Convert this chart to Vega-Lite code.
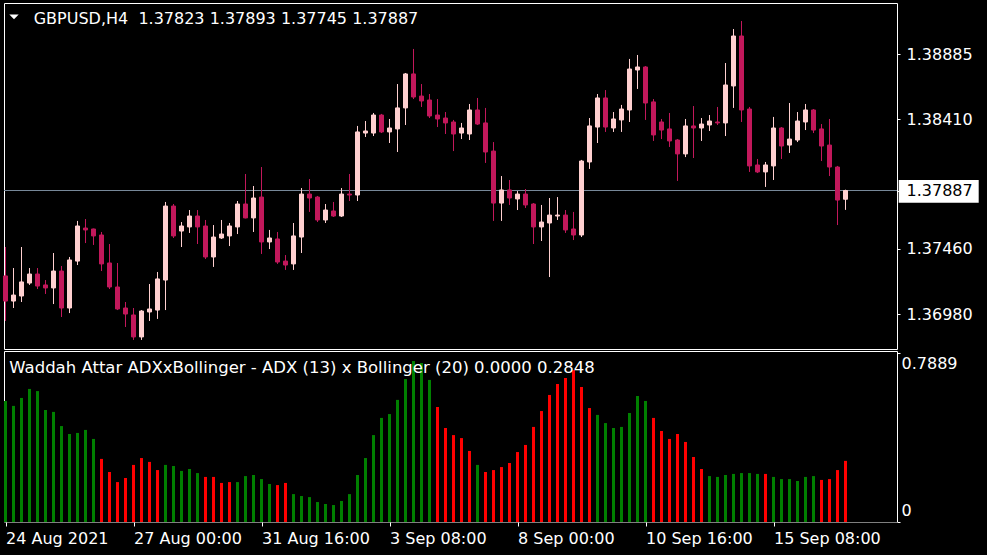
{
"$schema":"https://vega.github.io/schema/vega-lite/v6.json",
"background":"#000000",
"padding":{"left":2,"top":2,"right":0,"bottom":0},
"spacing":2,
"bounds":"flush",
"config":{"view":{"stroke":"#FFFFFF","strokeWidth":1,"fill":"#000000"},"font":"DejaVu Sans","axis":{"labelFont":"DejaVu Sans","labelFontSize":16,"labelColor":"#FFFFFF","tickColor":"#FFFFFF","tickWidth":1,"domain":false,"grid":false,"zindex":1}},
"datasets":{"bars":[
{"i":0,"o":1.37261,"h":1.37473,"l":1.36931,"c":1.37077,"w":0.564,"s":"up"},
{"i":1,"o":1.37077,"h":1.37319,"l":1.37026,"c":1.37121,"w":0.541,"s":"up"},
{"i":2,"o":1.37114,"h":1.37473,"l":1.37070,"c":1.37217,"w":0.578,"s":"up"},
{"i":3,"o":1.37209,"h":1.37319,"l":1.37195,"c":1.37275,"w":0.620,"s":"up"},
{"i":4,"o":1.37275,"h":1.37319,"l":1.37165,"c":1.37187,"w":0.610,"s":"up"},
{"i":5,"o":1.37195,"h":1.37231,"l":1.37129,"c":1.37173,"w":0.522,"s":"up"},
{"i":6,"o":1.37173,"h":1.37429,"l":1.37055,"c":1.37297,"w":0.513,"s":"up"},
{"i":7,"o":1.37297,"h":1.37334,"l":1.36960,"c":1.37026,"w":0.447,"s":"up"},
{"i":8,"o":1.37026,"h":1.37400,"l":1.36989,"c":1.37378,"w":0.410,"s":"up"},
{"i":9,"o":1.37370,"h":1.37664,"l":1.37341,"c":1.37627,"w":0.415,"s":"up"},
{"i":10,"o":1.37612,"h":1.37678,"l":1.37502,"c":1.37598,"w":0.429,"s":"up"},
{"i":11,"o":1.37605,"h":1.37608,"l":1.37488,"c":1.37554,"w":0.387,"s":"up"},
{"i":12,"o":1.37561,"h":1.37583,"l":1.37297,"c":1.37349,"w":0.294,"s":"dn"},
{"i":13,"o":1.37356,"h":1.37495,"l":1.37165,"c":1.37180,"w":0.233,"s":"dn"},
{"i":14,"o":1.37180,"h":1.37356,"l":1.37011,"c":1.37019,"w":0.186,"s":"dn"},
{"i":15,"o":1.37026,"h":1.37070,"l":1.36887,"c":1.36982,"w":0.205,"s":"dn"},
{"i":16,"o":1.36975,"h":1.37026,"l":1.36792,"c":1.36814,"w":0.266,"s":"dn"},
{"i":17,"o":1.36814,"h":1.37011,"l":1.36792,"c":1.37004,"w":0.298,"s":"dn"},
{"i":18,"o":1.36997,"h":1.37202,"l":1.36931,"c":1.37019,"w":0.280,"s":"dn"},
{"i":19,"o":1.37011,"h":1.37290,"l":1.36946,"c":1.37239,"w":0.242,"s":"dn"},
{"i":20,"o":1.37231,"h":1.37803,"l":1.37011,"c":1.37773,"w":0.266,"s":"up"},
{"i":21,"o":1.37773,"h":1.37788,"l":1.37539,"c":1.37554,"w":0.261,"s":"up"},
{"i":22,"o":1.37590,"h":1.37656,"l":1.37473,"c":1.37627,"w":0.238,"s":"up"},
{"i":23,"o":1.37620,"h":1.37744,"l":1.37576,"c":1.37700,"w":0.247,"s":"up"},
{"i":24,"o":1.37700,"h":1.37744,"l":1.37495,"c":1.37620,"w":0.228,"s":"up"},
{"i":25,"o":1.37627,"h":1.37671,"l":1.37385,"c":1.37400,"w":0.210,"s":"dn"},
{"i":26,"o":1.37400,"h":1.37634,"l":1.37327,"c":1.37546,"w":0.210,"s":"dn"},
{"i":27,"o":1.37539,"h":1.37671,"l":1.37532,"c":1.37568,"w":0.182,"s":"dn"},
{"i":28,"o":1.37554,"h":1.37649,"l":1.37480,"c":1.37627,"w":0.186,"s":"dn"},
{"i":29,"o":1.37620,"h":1.37810,"l":1.37568,"c":1.37788,"w":0.186,"s":"up"},
{"i":30,"o":1.37788,"h":1.38008,"l":1.37683,"c":1.37686,"w":0.214,"s":"up"},
{"i":31,"o":1.37686,"h":1.37920,"l":1.37583,"c":1.37832,"w":0.219,"s":"up"},
{"i":32,"o":1.37839,"h":1.38059,"l":1.37422,"c":1.37510,"w":0.200,"s":"up"},
{"i":33,"o":1.37510,"h":1.37598,"l":1.37458,"c":1.37539,"w":0.177,"s":"up"},
{"i":34,"o":1.37532,"h":1.37583,"l":1.37349,"c":1.37363,"w":0.172,"s":"dn"},
{"i":35,"o":1.37370,"h":1.37414,"l":1.37305,"c":1.37341,"w":0.182,"s":"dn"},
{"i":36,"o":1.37349,"h":1.37649,"l":1.37305,"c":1.37554,"w":0.130,"s":"up"},
{"i":37,"o":1.37546,"h":1.37905,"l":1.37429,"c":1.37861,"w":0.121,"s":"up"},
{"i":38,"o":1.37861,"h":1.37971,"l":1.37730,"c":1.37832,"w":0.116,"s":"up"},
{"i":39,"o":1.37839,"h":1.37847,"l":1.37656,"c":1.37671,"w":0.093,"s":"up"},
{"i":40,"o":1.37671,"h":1.37788,"l":1.37649,"c":1.37744,"w":0.084,"s":"up"},
{"i":41,"o":1.37737,"h":1.37803,"l":1.37693,"c":1.37700,"w":0.079,"s":"up"},
{"i":42,"o":1.37700,"h":1.37905,"l":1.37693,"c":1.37861,"w":0.098,"s":"up"},
{"i":43,"o":1.37861,"h":1.38008,"l":1.37810,"c":1.37854,"w":0.130,"s":"up"},
{"i":44,"o":1.37854,"h":1.38360,"l":1.37810,"c":1.38316,"w":0.219,"s":"up"},
{"i":45,"o":1.38308,"h":1.38396,"l":1.38279,"c":1.38323,"w":0.298,"s":"up"},
{"i":46,"o":1.38308,"h":1.38455,"l":1.38286,"c":1.38440,"w":0.405,"s":"up"},
{"i":47,"o":1.38440,"h":1.38448,"l":1.38308,"c":1.38316,"w":0.485,"s":"up"},
{"i":48,"o":1.38316,"h":1.38411,"l":1.38235,"c":1.38345,"w":0.503,"s":"up"},
{"i":49,"o":1.38338,"h":1.38667,"l":1.38169,"c":1.38492,"w":0.569,"s":"up"},
{"i":50,"o":1.38492,"h":1.38748,"l":1.38367,"c":1.38741,"w":0.666,"s":"up"},
{"i":51,"o":1.38741,"h":1.38924,"l":1.38557,"c":1.38572,"w":0.750,"s":"up"},
{"i":52,"o":1.38579,"h":1.38667,"l":1.38499,"c":1.38543,"w":0.741,"s":"up"},
{"i":53,"o":1.38550,"h":1.38594,"l":1.38418,"c":1.38433,"w":0.662,"s":"up"},
{"i":54,"o":1.38440,"h":1.38557,"l":1.38352,"c":1.38411,"w":0.536,"s":"dn"},
{"i":55,"o":1.38418,"h":1.38462,"l":1.38301,"c":1.38382,"w":0.438,"s":"dn"},
{"i":56,"o":1.38389,"h":1.38404,"l":1.38176,"c":1.38301,"w":0.405,"s":"dn"},
{"i":57,"o":1.38308,"h":1.38382,"l":1.38264,"c":1.38345,"w":0.391,"s":"dn"},
{"i":58,"o":1.38301,"h":1.38521,"l":1.38257,"c":1.38477,"w":0.331,"s":"dn"},
{"i":59,"o":1.38477,"h":1.38565,"l":1.38367,"c":1.38374,"w":0.266,"s":"up"},
{"i":60,"o":1.38382,"h":1.38492,"l":1.38089,"c":1.38169,"w":0.233,"s":"dn"},
{"i":61,"o":1.38176,"h":1.38242,"l":1.37664,"c":1.37795,"w":0.242,"s":"dn"},
{"i":62,"o":1.37795,"h":1.37993,"l":1.37664,"c":1.37891,"w":0.256,"s":"dn"},
{"i":63,"o":1.37891,"h":1.37964,"l":1.37781,"c":1.37832,"w":0.275,"s":"dn"},
{"i":64,"o":1.37825,"h":1.37883,"l":1.37744,"c":1.37861,"w":0.326,"s":"dn"},
{"i":65,"o":1.37861,"h":1.37898,"l":1.37759,"c":1.37781,"w":0.359,"s":"dn"},
{"i":66,"o":1.37788,"h":1.37795,"l":1.37495,"c":1.37620,"w":0.443,"s":"dn"},
{"i":67,"o":1.37620,"h":1.37781,"l":1.37517,"c":1.37656,"w":0.517,"s":"dn"},
{"i":68,"o":1.37649,"h":1.37832,"l":1.37253,"c":1.37707,"w":0.592,"s":"dn"},
{"i":69,"o":1.37700,"h":1.37839,"l":1.37671,"c":1.37707,"w":0.643,"s":"dn"},
{"i":70,"o":1.37707,"h":1.37744,"l":1.37576,"c":1.37598,"w":0.671,"s":"dn"},
{"i":71,"o":1.37605,"h":1.37730,"l":1.37524,"c":1.37561,"w":0.708,"s":"dn"},
{"i":72,"o":1.37561,"h":1.38111,"l":1.37546,"c":1.38103,"w":0.629,"s":"dn"},
{"i":73,"o":1.38096,"h":1.38418,"l":1.38045,"c":1.38360,"w":0.531,"s":"dn"},
{"i":74,"o":1.38352,"h":1.38594,"l":1.38235,"c":1.38565,"w":0.499,"s":"up"},
{"i":75,"o":1.38565,"h":1.38623,"l":1.38316,"c":1.38352,"w":0.461,"s":"up"},
{"i":76,"o":1.38345,"h":1.38462,"l":1.38316,"c":1.38411,"w":0.438,"s":"up"},
{"i":77,"o":1.38404,"h":1.38514,"l":1.38316,"c":1.38484,"w":0.443,"s":"up"},
{"i":78,"o":1.38477,"h":1.38851,"l":1.38389,"c":1.38777,"w":0.508,"s":"up"},
{"i":79,"o":1.38770,"h":1.38880,"l":1.38631,"c":1.38792,"w":0.587,"s":"up"},
{"i":80,"o":1.38792,"h":1.38799,"l":1.38404,"c":1.38528,"w":0.564,"s":"up"},
{"i":81,"o":1.38536,"h":1.38557,"l":1.38250,"c":1.38294,"w":0.485,"s":"dn"},
{"i":82,"o":1.38389,"h":1.38411,"l":1.38264,"c":1.38330,"w":0.424,"s":"dn"},
{"i":83,"o":1.38338,"h":1.38455,"l":1.38206,"c":1.38250,"w":0.387,"s":"dn"},
{"i":84,"o":1.38257,"h":1.38264,"l":1.37957,"c":1.38155,"w":0.410,"s":"dn"},
{"i":85,"o":1.38155,"h":1.38411,"l":1.38132,"c":1.38360,"w":0.373,"s":"dn"},
{"i":86,"o":1.38360,"h":1.38506,"l":1.38125,"c":1.38345,"w":0.303,"s":"dn"},
{"i":87,"o":1.38345,"h":1.38418,"l":1.38250,"c":1.38374,"w":0.247,"s":"dn"},
{"i":88,"o":1.38367,"h":1.38440,"l":1.38323,"c":1.38396,"w":0.214,"s":"up"},
{"i":89,"o":1.38389,"h":1.38499,"l":1.38367,"c":1.38382,"w":0.210,"s":"up"},
{"i":90,"o":1.38382,"h":1.38821,"l":1.38286,"c":1.38660,"w":0.219,"s":"up"},
{"i":91,"o":1.38653,"h":1.39070,"l":1.38492,"c":1.39019,"w":0.224,"s":"up"},
{"i":92,"o":1.39019,"h":1.39129,"l":1.38389,"c":1.38477,"w":0.228,"s":"up"},
{"i":93,"o":1.38484,"h":1.38499,"l":1.38023,"c":1.38067,"w":0.228,"s":"up"},
{"i":94,"o":1.38074,"h":1.38118,"l":1.38015,"c":1.38023,"w":0.224,"s":"up"},
{"i":95,"o":1.38023,"h":1.38096,"l":1.37913,"c":1.38074,"w":0.224,"s":"dn"},
{"i":96,"o":1.38067,"h":1.38426,"l":1.37964,"c":1.38345,"w":0.210,"s":"up"},
{"i":97,"o":1.38345,"h":1.38352,"l":1.38118,"c":1.38213,"w":0.200,"s":"up"},
{"i":98,"o":1.38220,"h":1.38528,"l":1.38162,"c":1.38264,"w":0.200,"s":"up"},
{"i":99,"o":1.38257,"h":1.38462,"l":1.38242,"c":1.38396,"w":0.191,"s":"up"},
{"i":100,"o":1.38389,"h":1.38521,"l":1.38330,"c":1.38477,"w":0.210,"s":"up"},
{"i":101,"o":1.38477,"h":1.38484,"l":1.38308,"c":1.38330,"w":0.214,"s":"up"},
{"i":102,"o":1.38338,"h":1.38374,"l":1.38103,"c":1.38213,"w":0.196,"s":"dn"},
{"i":103,"o":1.38220,"h":1.38411,"l":1.37993,"c":1.38059,"w":0.200,"s":"dn"},
{"i":104,"o":1.38059,"h":1.38067,"l":1.37634,"c":1.37817,"w":0.242,"s":"dn"},
{"i":105,"o":1.37823,"h":1.37893,"l":1.37745,"c":1.37887,"w":0.2848,"s":"dn"}
]},
"vconcat":[
{
"width":893,"height":346,
"layer":[
{"data":{"values":[{}]},"mark":{"type":"rect","clip":false,"color":"#000000"},
 "encoding":{"x":{"datum":112,"type":"quantitative","scale":{"domain":[-0.1875,111.4375],"nice":false,"zero":false,"padding":0},"axis":null},"x2":{"datum":122.875},
 "y":{"datum":1.392608,"type":"quantitative","scale":{"domain":[1.367257,1.392608],"nice":false,"zero":false},
   "axis":{"orient":"right","zindex":2,"values":[1.3698,1.3746,1.37887,1.3841,1.38885],"format":".5f","tickSize":3,"labelPadding":6,"title":null,
     "labelColor":{"condition":{"test":"abs(datum.value-1.37887)<0.000001","value":"#000000"},"value":"#FFFFFF"}}},
 "y2":{"datum":1.367257}}},
{"data":{"values":[{}]},"mark":{"type":"rule","color":"#778899","strokeWidth":1},
 "encoding":{"y":{"datum":1.37887,"type":"quantitative","scale":{"domain":[1.367257,1.392608],"nice":false,"zero":false}}}},
{"data":{"name":"bars"},"mark":{"type":"rule","strokeWidth":1},
 "encoding":{"x":{"field":"i","type":"quantitative","scale":{"domain":[-0.1875,111.4375],"nice":false,"zero":false,"padding":0},"axis":null},
 "y":{"field":"l","type":"quantitative","scale":{"domain":[1.367257,1.392608],"nice":false,"zero":false}},"y2":{"field":"h"},
 "color":{"condition":{"test":"datum.c >= datum.o","value":"#FFD0D0"},"value":"#C2185B"}}},
{"data":{"name":"bars"},"mark":{"type":"bar","width":4,"strokeWidth":1},
 "encoding":{"x":{"field":"i","type":"quantitative","scale":{"domain":[-0.1875,111.4375],"nice":false,"zero":false,"padding":0},"axis":null},
 "y":{"field":"o","type":"quantitative","scale":{"domain":[1.367257,1.392608],"nice":false,"zero":false}},"y2":{"field":"c"},
 "fill":{"condition":{"test":"datum.c >= datum.o","value":"#FFD0D0"},"value":"#C2185B"},
 "stroke":{"condition":{"test":"datum.c >= datum.o","value":"#FFD0D0"},"value":"#C2185B"}}},
{"data":{"values":[{}]},"mark":{"type":"rect","clip":false,"color":"#FFFFFF"},
 "encoding":{"x":{"datum":111.65,"type":"quantitative","scale":{"domain":[-0.1875,111.4375],"nice":false,"zero":false,"padding":0},"axis":null},"x2":{"datum":121.65},
 "y":{"datum":1.37964,"type":"quantitative","scale":{"domain":[1.367257,1.392608],"nice":false,"zero":false}},"y2":{"datum":1.377976}}},
{"data":{"values":[{}]},"mark":{"type":"point","shape":"M-1,-0.5L1,-0.5L0,0.5Z","filled":true,"color":"#FFFFFF","size":88,"opacity":1},
 "encoding":{"x":{"datum":1.0625,"type":"quantitative","scale":{"domain":[-0.1875,111.4375],"nice":false,"zero":false,"padding":0},"axis":null},
 "y":{"datum":1.391597,"type":"quantitative","scale":{"domain":[1.367257,1.392608],"nice":false,"zero":false}}}},
{"data":{"values":[{}]},"mark":{"type":"text","align":"left","baseline":"middle","font":"DejaVu Sans","fontSize":16,"color":"#FFFFFF","text":"GBPUSD,H4\u00a0 1.37823 1.37893 1.37745 1.37887"},
 "encoding":{"x":{"datum":3.525,"type":"quantitative","scale":{"domain":[-0.1875,111.4375],"nice":false,"zero":false,"padding":0},"axis":null},
 "y":{"datum":1.391451,"type":"quantitative","scale":{"domain":[1.367257,1.392608],"nice":false,"zero":false}}}}
]
},
{
"width":893,"height":171,
"layer":[
{"data":{"values":[{}]},"mark":{"type":"rect","clip":false,"color":"#000000"},
 "encoding":{"x":{"datum":-0.1875,"type":"quantitative","scale":{"domain":[-0.1875,111.4375],"nice":false,"zero":false,"padding":0},
   "axis":{"orient":"bottom","zindex":2,"values":[0,16,32,48,64,80,96],"labelExpr":"['24 Aug 2021','27 Aug 00:00','31 Aug 16:00','3 Sep 08:00','8 Sep 00:00','10 Sep 16:00','15 Sep 08:00'][round(datum.value/16)]","labelAlign":"left","tickSize":4,"labelPadding":4,"title":null,"labelOverlap":false,"labelFlush":false,"labelBound":false}},
 "x2":{"datum":122.875},
 "y":{"datum":-0.0025,"type":"quantitative","scale":{"domain":[0,0.7968],"nice":false,"zero":false},
   "axis":{"orient":"right","zindex":2,"values":[0,0.7889],"labelExpr":"datum.value > 0.5 ? '0.7889' : '0'","tickSize":3,"labelPadding":1,"title":null,
     "labelBaseline":{"condition":{"test":"datum.value > 0.5","value":"top"},"value":"bottom"},
     "labelOffset":{"condition":{"test":"datum.value > 0.5","value":3},"value":-4}}},
 "y2":{"datum":-0.1561}}},
{"data":{"name":"bars"},"mark":{"type":"bar","width":3},
 "encoding":{"x":{"field":"i","type":"quantitative","scale":{"domain":[-0.1875,111.4375],"nice":false,"zero":false,"padding":0}},
 "y":{"field":"w","type":"quantitative","scale":{"domain":[0,0.7968],"nice":false,"zero":false}},
 "color":{"field":"s","type":"nominal","scale":{"domain":["up","dn"],"range":["#008000","#FF0000"]},"legend":null}}},
{"data":{"values":[{}]},"mark":{"type":"text","align":"left","baseline":"middle","font":"DejaVu Sans","fontSize":16.5,"color":"#FFFFFF","text":"Waddah Attar ADXxBollinger - ADX (13) x Bollinger (20) 0.0000 0.2848"},
 "encoding":{"x":{"datum":0.475,"type":"quantitative","scale":{"domain":[-0.1875,111.4375],"nice":false,"zero":false,"padding":0}},
 "y":{"datum":0.719,"type":"quantitative","scale":{"domain":[0,0.7968],"nice":false,"zero":false}}}}
]
}
]
}
